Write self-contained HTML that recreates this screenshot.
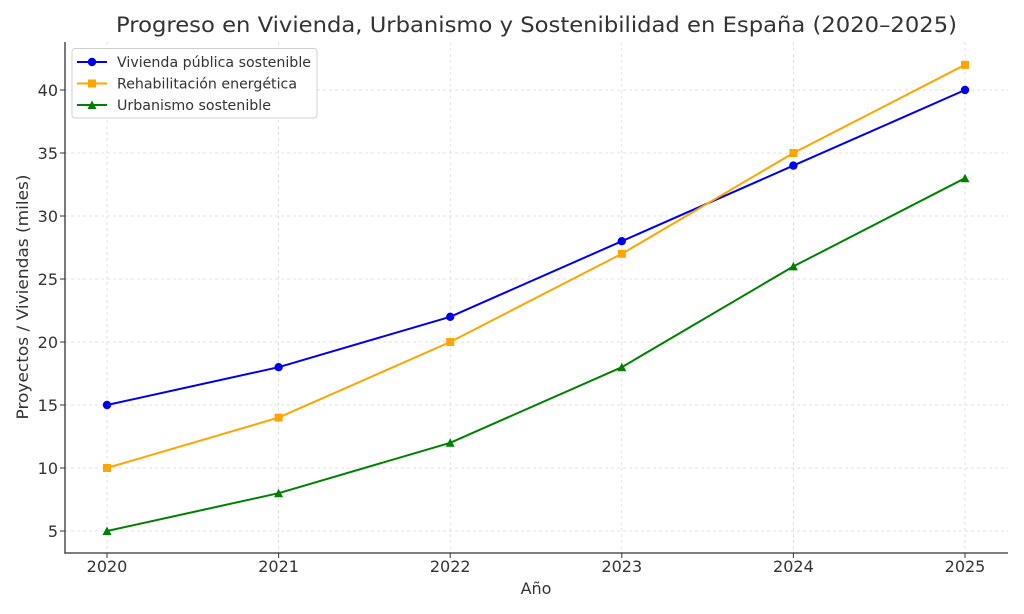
<!DOCTYPE html>
<html><head><meta charset="utf-8"><style>
html,body{margin:0;padding:0;background:#fff;}
svg{display:block;font-family:"DejaVu Sans","Liberation Sans",sans-serif;}
</style></head><body>
<svg width="1024" height="614" viewBox="0 0 1024 614" xmlns="http://www.w3.org/2000/svg">
<rect width="1024" height="614" fill="#fff"/>
<!-- grid -->
<g stroke="#d9d9d9" stroke-width="0.8" stroke-dasharray="3,3">
<line x1="65" y1="531" x2="1008" y2="531"/>
<line x1="65" y1="468" x2="1008" y2="468"/>
<line x1="65" y1="405" x2="1008" y2="405"/>
<line x1="65" y1="342" x2="1008" y2="342"/>
<line x1="65" y1="279" x2="1008" y2="279"/>
<line x1="65" y1="216" x2="1008" y2="216"/>
<line x1="65" y1="153" x2="1008" y2="153"/>
<line x1="65" y1="90" x2="1008" y2="90"/>
<line x1="107" y1="42" x2="107" y2="553"/>
<line x1="278.6" y1="42" x2="278.6" y2="553"/>
<line x1="450.2" y1="42" x2="450.2" y2="553"/>
<line x1="621.8" y1="42" x2="621.8" y2="553"/>
<line x1="793.4" y1="42" x2="793.4" y2="553"/>
<line x1="965" y1="42" x2="965" y2="553"/>
</g>
<!-- spines -->
<g stroke="#333" stroke-width="1.3">
<line x1="65" y1="42" x2="65" y2="553.6"/>
<line x1="64.4" y1="553" x2="1008" y2="553"/>
</g>
<!-- ticks -->
<g stroke="#333" stroke-width="1">
<line x1="60" y1="531" x2="65" y2="531"/>
<line x1="60" y1="468" x2="65" y2="468"/>
<line x1="60" y1="405" x2="65" y2="405"/>
<line x1="60" y1="342" x2="65" y2="342"/>
<line x1="60" y1="279" x2="65" y2="279"/>
<line x1="60" y1="216" x2="65" y2="216"/>
<line x1="60" y1="153" x2="65" y2="153"/>
<line x1="60" y1="90" x2="65" y2="90"/>
<line x1="107" y1="553" x2="107" y2="558"/>
<line x1="278.6" y1="553" x2="278.6" y2="558"/>
<line x1="450.2" y1="553" x2="450.2" y2="558"/>
<line x1="621.8" y1="553" x2="621.8" y2="558"/>
<line x1="793.4" y1="553" x2="793.4" y2="558"/>
<line x1="965" y1="553" x2="965" y2="558"/>
</g>
<g fill="#333" font-size="16" text-anchor="end">
<text x="58" y="537">5</text>
<text x="58" y="474">10</text>
<text x="58" y="411">15</text>
<text x="58" y="348">20</text>
<text x="58" y="285">25</text>
<text x="58" y="222">30</text>
<text x="58" y="159">35</text>
<text x="58" y="96">40</text>
</g>
<g fill="#333" font-size="16" text-anchor="middle">
<text x="107" y="572">2020</text>
<text x="278.6" y="572">2021</text>
<text x="450.2" y="572">2022</text>
<text x="621.8" y="572">2023</text>
<text x="793.4" y="572">2024</text>
<text x="965" y="572">2025</text>
<text x="536" y="594">Año</text>
<text x="536.5" y="32" font-size="21" textLength="841" lengthAdjust="spacingAndGlyphs">Progreso en Vivienda, Urbanismo y Sostenibilidad en España (2020–2025)</text>
<text transform="translate(28,297) rotate(-90)" textLength="245" lengthAdjust="spacingAndGlyphs">Proyectos / Viviendas (miles)</text>
</g>
<!-- series -->
<polyline fill="none" stroke="#0000ee" stroke-width="2" points="107,405 278.6,367.2 450.2,316.8 621.8,241.2 793.4,165.6 965,90"/>
<polyline fill="none" stroke="#ffa500" stroke-width="2" points="107,468 278.6,417.6 450.2,342 621.8,253.8 793.4,153 965,64.8"/>
<polyline fill="none" stroke="#008000" stroke-width="2" points="107,531 278.6,493.2 450.2,442.8 621.8,367.2 793.4,266.4 965,178.2"/>
<g fill="#0000ee">
<circle cx="107" cy="405" r="4.2"/><circle cx="278.6" cy="367.2" r="4.2"/><circle cx="450.2" cy="316.8" r="4.2"/><circle cx="621.8" cy="241.2" r="4.2"/><circle cx="793.4" cy="165.6" r="4.2"/><circle cx="965" cy="90" r="4.2"/>
</g>
<g fill="#ffa500">
<rect x="103" y="464" width="8" height="8"/><rect x="274.6" y="413.6" width="8" height="8"/><rect x="446.2" y="338" width="8" height="8"/><rect x="617.8" y="249.8" width="8" height="8"/><rect x="789.4" y="149" width="8" height="8"/><rect x="961" y="60.8" width="8" height="8"/>
</g>
<g fill="#008000">
<polygon points="107,526.5 111.5,535 102.5,535"/>
<polygon points="278.6,488.7 283.1,497.2 274.1,497.2"/>
<polygon points="450.2,438.3 454.7,446.8 445.7,446.8"/>
<polygon points="621.8,362.7 626.3,371.2 617.3,371.2"/>
<polygon points="793.4,261.9 797.9,270.4 788.9,270.4"/>
<polygon points="965,173.7 969.5,182.2 960.5,182.2"/>
</g>
<!-- legend -->
<rect x="72" y="48.5" width="245" height="69.5" rx="3" fill="#fff" fill-opacity="0.85" stroke="#d0d0d0" stroke-width="1"/>
<line x1="77" y1="62" x2="107" y2="62" stroke="#0000ee" stroke-width="2"/>
<circle cx="92" cy="62" r="4.2" fill="#0000ee"/>
<line x1="77" y1="83.5" x2="107" y2="83.5" stroke="#ffa500" stroke-width="2"/>
<rect x="88" y="79.5" width="8" height="8" fill="#ffa500"/>
<line x1="77" y1="105" x2="107" y2="105" stroke="#008000" stroke-width="2"/>
<polygon points="92,100.5 96.5,109 87.5,109" fill="#008000"/>
<g fill="#333" font-size="14">
<text x="117" y="67" textLength="194" lengthAdjust="spacingAndGlyphs">Vivienda pública sostenible</text>
<text x="117" y="88.5" textLength="180" lengthAdjust="spacingAndGlyphs">Rehabilitación energética</text>
<text x="117" y="110" textLength="154" lengthAdjust="spacingAndGlyphs">Urbanismo sostenible</text>
</g>
</svg>
</body></html>
